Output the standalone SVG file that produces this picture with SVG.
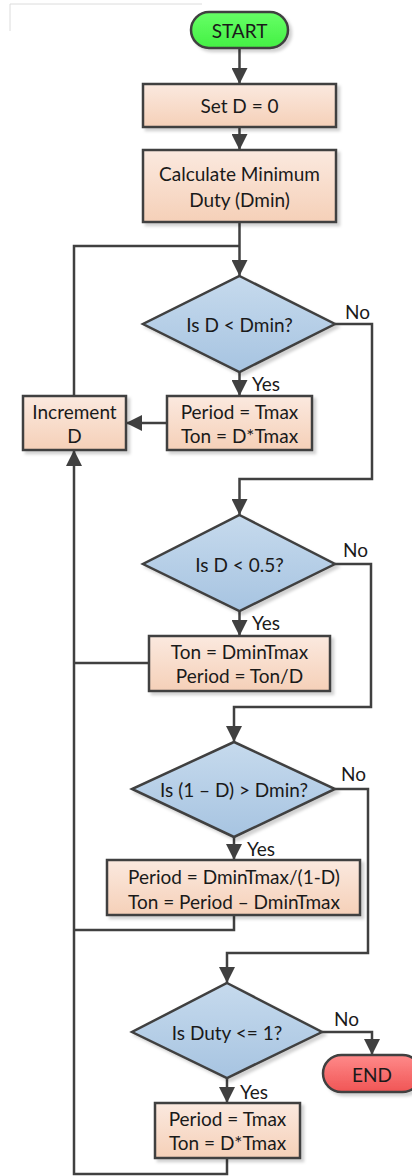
<svg xmlns="http://www.w3.org/2000/svg" width="412" height="1176" viewBox="0 0 412 1176">
  <style>
    .lbl { font-family: Lato, "Open Sans", "Liberation Sans", sans-serif; font-size: 19px; fill: #1a1a1a; text-anchor: middle; dominant-baseline: central; }
    .tag { font-family: Lato, "Open Sans", "Liberation Sans", sans-serif; font-size: 19px; fill: #1a1a1a; dominant-baseline: central; }
    .shape { stroke: #404040; stroke-width: 2.5; filter: url(#shadow); }
    .proc { fill: url(#procFill); }
    .dec { fill: url(#decFill); }
    .wire { fill: none; stroke: #404040; stroke-width: 2.5; }
  </style>
  <defs>
    <linearGradient id="procFill" x1="0" y1="0" x2="0" y2="1">
      <stop offset="0" stop-color="#fbe9df"/>
      <stop offset="1" stop-color="#f5d0b8"/>
    </linearGradient>
    <linearGradient id="decFill" x1="0" y1="0" x2="0" y2="1">
      <stop offset="0" stop-color="#c6daed"/>
      <stop offset="1" stop-color="#a7c4e1"/>
    </linearGradient>
    <linearGradient id="startFill" x1="0" y1="0" x2="0" y2="1">
      <stop offset="0" stop-color="#66ff66"/>
      <stop offset="1" stop-color="#44f044"/>
    </linearGradient>
    <linearGradient id="endFill" x1="0" y1="0" x2="0" y2="1">
      <stop offset="0" stop-color="#ff8a8a"/>
      <stop offset="1" stop-color="#f05555"/>
    </linearGradient>
    <filter id="shadow" x="-10%" y="-10%" width="130%" height="140%">
      <feDropShadow dx="3" dy="3" stdDeviation="1.5" flood-color="#000" flood-opacity="0.18"/>
    </filter>
    <marker id="arrow" viewBox="0 0 16 16" refX="16" refY="8" markerWidth="16" markerHeight="16" markerUnits="userSpaceOnUse" orient="auto">
      <path d="M0,0 L16,8 L0,16 Z" fill="#404040"/>
    </marker>
  </defs>

  <!-- faint page corner -->
  <path d="M202,4 H10 V31" fill="none" stroke="#dcdcdc" stroke-width="1"/>

  <!-- connectors -->
  <g id="connectors">
    <path class="wire" d="M239.5,48 V84" marker-end="url(#arrow)"/>
    <path class="wire" d="M239.5,127 V150" marker-end="url(#arrow)"/>
    <path class="wire" d="M239.5,222 V276" marker-end="url(#arrow)"/>
    <path class="wire" d="M74,396 V246 H239.5"/>
    <path class="wire" d="M239.5,372 V396" marker-end="url(#arrow)"/>
    <path class="wire" d="M167,423 H126" marker-end="url(#arrow)"/>
    <path class="wire" d="M335,324 H372 V479 H239.5 V515" marker-end="url(#arrow)"/>
    <path class="wire" d="M239.5,611 V636" marker-end="url(#arrow)"/>
    <path class="wire" d="M149,663 H74"/>
    <path class="wire" d="M335,564 H371 V707 H234 V742" marker-end="url(#arrow)"/>
    <path class="wire" d="M234,837 V860" marker-end="url(#arrow)"/>
    <path class="wire" d="M234,915 V930 H74"/>
    <path class="wire" d="M335,789 H368 V953 H227 V983" marker-end="url(#arrow)"/>
    <path class="wire" d="M227,1078 V1103" marker-end="url(#arrow)"/>
    <path class="wire" d="M322,1032 H372 V1055" marker-end="url(#arrow)"/>
    <path class="wire" d="M227,1158 V1174 H74 V450" marker-end="url(#arrow)"/>
  </g>

  <g id="start">
    <rect class="shape" x="191" y="12" width="97" height="36" rx="18" fill="url(#startFill)"/>
    <text class="lbl" x="239.5" y="30">START</text>
  </g>

  <g id="set-d">
    <rect class="shape proc" x="143" y="84" width="193" height="43"/>
    <text class="lbl" x="239.5" y="105.5">Set D = 0</text>
  </g>

  <g id="calc-dmin">
    <rect class="shape proc" x="143" y="150" width="193" height="72"/>
    <text class="lbl" x="239.5" y="173">Calculate Minimum</text>
    <text class="lbl" x="239.5" y="199">Duty (Dmin)</text>
  </g>

  <g id="dec-dmin">
    <polygon class="shape dec" points="239.5,276 335,324 239.5,372 143,324"/>
    <text class="lbl" x="239.5" y="324">Is D &lt; Dmin?</text>
    <text class="tag" x="345" y="311">No</text>
    <text class="tag" x="252" y="383">Yes</text>
  </g>

  <g id="proc-tmax-1">
    <rect class="shape proc" x="167" y="396" width="145" height="54"/>
    <text class="lbl" x="239.5" y="411">Period = Tmax</text>
    <text class="lbl" x="239.5" y="435">Ton = D*Tmax</text>
  </g>

  <g id="increment">
    <rect class="shape proc" x="23" y="396" width="103" height="54"/>
    <text class="lbl" x="74.5" y="411">Increment</text>
    <text class="lbl" x="74.5" y="435">D</text>
  </g>

  <g id="dec-half">
    <polygon class="shape dec" points="239.5,515 335,564 239.5,611 143,564"/>
    <text class="lbl" x="239.5" y="564">Is D &lt; 0.5?</text>
    <text class="tag" x="343" y="549">No</text>
    <text class="tag" x="252" y="622">Yes</text>
  </g>

  <g id="proc-half">
    <rect class="shape proc" x="149" y="636" width="181" height="55"/>
    <text class="lbl" x="239.5" y="651">Ton = DminTmax</text>
    <text class="lbl" x="239.5" y="675">Period = Ton/D</text>
  </g>

  <g id="dec-complement">
    <polygon class="shape dec" points="234,742 335,789 234,837 132,789"/>
    <text class="lbl" x="234" y="789">Is (1 – D) &gt; Dmin?</text>
    <text class="tag" x="341" y="773">No</text>
    <text class="tag" x="247" y="848">Yes</text>
  </g>

  <g id="proc-complement">
    <rect class="shape proc" x="107" y="860" width="253" height="55"/>
    <text class="lbl" x="234" y="876">Period = DminTmax/(1-D)</text>
    <text class="lbl" x="234" y="901">Ton = Period – DminTmax</text>
  </g>

  <g id="dec-duty">
    <polygon class="shape dec" points="227,983 322,1032 227,1078 132,1032"/>
    <text class="lbl" x="227" y="1032">Is Duty &lt;= 1?</text>
    <text class="tag" x="334" y="1018">No</text>
    <text class="tag" x="240" y="1091">Yes</text>
  </g>

  <g id="proc-tmax-2">
    <rect class="shape proc" x="155" y="1103" width="145" height="55"/>
    <text class="lbl" x="227.5" y="1118">Period = Tmax</text>
    <text class="lbl" x="227.5" y="1142">Ton = D*Tmax</text>
  </g>

  <g id="end">
    <rect class="shape" x="323" y="1055" width="98" height="37" rx="18.5" fill="url(#endFill)"/>
    <text class="lbl" x="372" y="1074">END</text>
  </g>
</svg>
